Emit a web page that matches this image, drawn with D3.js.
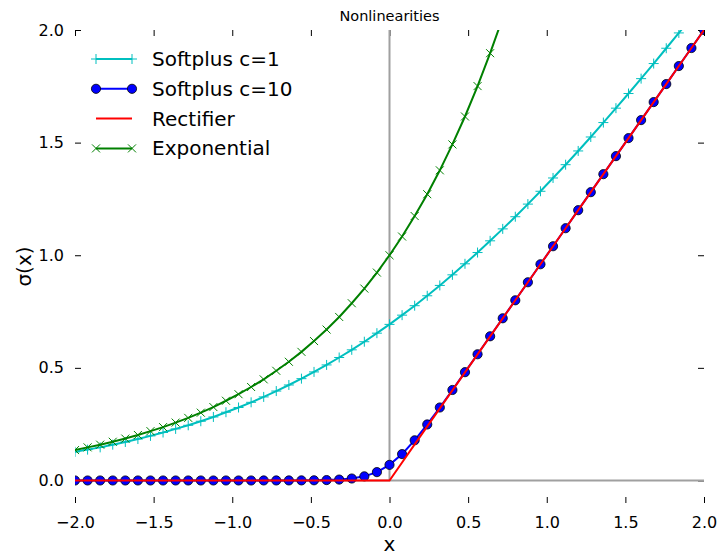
<!DOCTYPE html>
<html>
<head>
<meta charset="utf-8">
<script src="https://cdn.jsdelivr.net/npm/d3@7/dist/d3.min.js"></script>
<style>
  body { margin: 0; background: #fff; }
  text { font-family: "DejaVu Sans", sans-serif; }
</style>
</head>
<body>
<div id="chart"></div>
<script>
// x samples, step 0.08 from -2 to 2
var xs = [-2, -1.92, -1.84, -1.76, -1.68, -1.6, -1.52, -1.44, -1.36, -1.28, -1.2, -1.12, -1.04,
  -0.96, -0.88, -0.8, -0.72, -0.64, -0.56, -0.48, -0.4, -0.32, -0.24, -0.16, -0.08, 0,
  0.08, 0.16, 0.24, 0.32, 0.4, 0.48, 0.56, 0.64, 0.72, 0.8, 0.88, 0.96, 1.04, 1.12, 1.2,
  1.28, 1.36, 1.44, 1.52, 1.6, 1.68, 1.76, 1.84, 1.92, 2];

var softplus1 = [0.127, 0.137, 0.147, 0.159, 0.171, 0.184, 0.198, 0.213, 0.229, 0.245, 0.263,
  0.282, 0.303, 0.324, 0.347, 0.371, 0.397, 0.424, 0.452, 0.482, 0.513, 0.546, 0.580, 0.616,
  0.654, 0.693, 0.734, 0.776, 0.820, 0.866, 0.913, 0.962, 1.012, 1.064, 1.117, 1.171, 1.227,
  1.284, 1.343, 1.402, 1.463, 1.525, 1.589, 1.653, 1.718, 1.784, 1.851, 1.919, 1.987, 2.057, 2.127];

var softplus10 = [0, 0, 0, 0, 0, 0, 0, 0, 0, 0, 0, 0, 0, 0, 0, 0.0001, 0.0001, 0.0002, 0.0004,
  0.0008, 0.0018, 0.004, 0.0087, 0.0184, 0.0371, 0.0693, 0.1171, 0.1784, 0.2487, 0.324,
  0.4018, 0.4808, 0.5604, 0.6402, 0.7201, 0.8, 0.88, 0.96, 1.04, 1.12, 1.2, 1.28, 1.36,
  1.44, 1.52, 1.6, 1.68, 1.76, 1.84, 1.92, 2];

var rectifier = [0, 0, 0, 0, 0, 0, 0, 0, 0, 0, 0, 0, 0, 0, 0, 0, 0, 0, 0, 0, 0, 0, 0, 0, 0, 0,
  0.08, 0.16, 0.24, 0.32, 0.4, 0.48, 0.56, 0.64, 0.72, 0.8, 0.88, 0.96, 1.04, 1.12, 1.2,
  1.28, 1.36, 1.44, 1.52, 1.6, 1.68, 1.76, 1.84, 1.92, 2];

var exponential = [0.135, 0.147, 0.159, 0.172, 0.186, 0.202, 0.219, 0.237, 0.257, 0.278, 0.301,
  0.326, 0.354, 0.383, 0.415, 0.449, 0.487, 0.527, 0.571, 0.619, 0.670, 0.726, 0.787, 0.852,
  0.923, 1, 1.083, 1.174, 1.271, 1.377, 1.492, 1.616, 1.751, 1.897, 2.054, 2.226, 2.411,
  2.612, 2.829, 3.065, 3.320, 3.597, 3.896, 4.221, 4.572, 4.953, 5.366, 5.812, 6.297, 6.821, 7.389];

var xTicks = [-2, -1.5, -1, -0.5, 0, 0.5, 1, 1.5, 2];
var yTicks = [0, 0.5, 1, 1.5, 2];

var W = 720, H = 555;
var padL = 75, padR = 704, padT = 30, padB = 503;

var x = d3.scaleLinear().domain([-2, 2]).range([padL, padR]);
var y = d3.scaleLinear().domain([-0.1, 2]).range([padB, padT]);

var svg = d3.select("#chart").append("svg")
    .attr("width", W).attr("height", H);

svg.append("defs").append("clipPath").attr("id", "clip")
  .append("rect")
    .attr("x", padL).attr("y", padT)
    .attr("width", padR - padL).attr("height", padB - padT);

var fmt = function (d) { return d3.format(".1f")(d).replace("-", "\u2212"); };

//axes: inward ticks, no spines
var gx = svg.append("g").attr("transform", "translate(0," + padB + ")")
    .call(d3.axisBottom(x).tickValues(xTicks).tickSizeInner(-6).tickSizeOuter(0).tickPadding(14).tickFormat(fmt));
var gxTop = svg.append("g").attr("transform", "translate(0," + padT + ")")
    .call(d3.axisTop(x).tickValues(xTicks).tickSizeInner(-6).tickSizeOuter(0).tickFormat(""));
var gy = svg.append("g").attr("transform", "translate(" + padL + ",0)")
    .call(d3.axisLeft(y).tickValues(yTicks).tickSizeInner(-6).tickSizeOuter(0).tickPadding(11).tickFormat(fmt));
var gyRight = svg.append("g").attr("transform", "translate(" + padR + ",0)")
    .call(d3.axisRight(y).tickValues(yTicks).tickSizeInner(-6).tickSizeOuter(0).tickFormat(""));

[gx, gxTop, gy, gyRight].forEach(function (g) {
    g.select(".domain").remove();
    g.selectAll("line").attr("stroke", "#000").attr("stroke-width", 1);
    g.selectAll("text").attr("fill", "#000").style("font-size", "16px")
        .style("font-family", "DejaVu Sans, sans-serif");
});

//zero lines
svg.append("line")
    .attr("x1", x(-2)).attr("x2", x(2)).attr("y1", y(0)).attr("y2", y(0))
    .attr("stroke", "#a0a0a0").attr("stroke-width", 2);
svg.append("line")
    .attr("x1", x(0)).attr("x2", x(0)).attr("y1", y(0)).attr("y2", y(2))
    .attr("stroke", "#a0a0a0").attr("stroke-width", 2);

var plot = svg.append("g").attr("clip-path", "url(#clip)");

function drawMarker(g, type, color, px, py) {
    if (type === "plus") {
        g.append("path").attr("d", "M" + (px - 5) + "," + py + "h10M" + px + "," + (py - 5) + "v10")
            .attr("stroke", color).attr("stroke-width", 1).attr("fill", "none");
    } else if (type === "cross") {
        g.append("path").attr("d", "M" + (px - 4) + "," + (py - 4) + "l8,8M" + (px - 4) + "," + (py + 4) + "l8,-8")
            .attr("stroke", color).attr("stroke-width", 1).attr("fill", "none");
    } else if (type === "circle") {
        g.append("circle").attr("cx", px).attr("cy", py).attr("r", 4.6)
            .attr("fill", color).attr("stroke", "#000").attr("stroke-width", 0.8);
    }
}

var series = [
    {name: "Softplus c=1", vals: softplus1, color: "#00bfbf", marker: "plus"},
    {name: "Softplus c=10", vals: softplus10, color: "#0000ff", marker: "circle"},
    {name: "Rectifier", vals: rectifier, color: "#ff0000", marker: null},
    {name: "Exponential", vals: exponential, color: "#008000", marker: "cross"}
];

var line = d3.line().x(function (d) { return x(d[0]); }).y(function (d) { return y(d[1]); });

series.forEach(function (s) {
    var pts = xs.map(function (v, i) { return [v, s.vals[i]]; });
    var g = plot.append("g");
    g.append("path").datum(pts).attr("d", line)
        .attr("fill", "none").attr("stroke", s.color).attr("stroke-width", 2);
    if (s.marker) {
        pts.forEach(function (p) {
            if (p[1] <= 2.05) drawMarker(g, s.marker, s.color, x(p[0]), y(p[1]));
        });
    }
});

//legend
var legend = svg.append("g");
series.forEach(function (s, i) {
    var ly = 59 + i * 29.8;
    legend.append("line").attr("x1", 96).attr("x2", 132).attr("y1", ly).attr("y2", ly)
        .attr("stroke", s.color).attr("stroke-width", 2);
    if (s.marker) {
        drawMarker(legend, s.marker, s.color, 96, ly);
        drawMarker(legend, s.marker, s.color, 132, ly);
    }
    legend.append("text").attr("x", 152).attr("y", ly + 7)
        .style("font-size", "20px").text(s.name);
});

//title and labels
svg.append("text").attr("x", (padL + padR) / 2).attr("y", 21)
    .attr("text-anchor", "middle").style("font-size", "14.5px").text("Nonlinearities");
svg.append("text").attr("x", (padL + padR) / 2).attr("y", 551)
    .attr("text-anchor", "middle").style("font-size", "20px").text("x");
svg.append("text").attr("transform", "translate(31," + ((padT + padB) / 2) + ") rotate(-90)")
    .attr("text-anchor", "middle").style("font-size", "20px").text("\u03c3(x)");
</script>
</body>
</html>
